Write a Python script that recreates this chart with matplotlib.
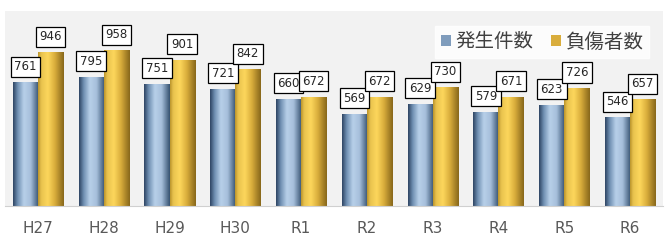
import matplotlib
matplotlib.use("Agg")
import matplotlib.pyplot as plt
import numpy as np
from matplotlib.colors import LinearSegmentedColormap
from matplotlib.patches import Rectangle

plt.rcParams['font.family'] = ['Noto Sans CJK JP', 'DejaVu Sans']

categories = ["H27", "H28", "H29", "H30", "R1", "R2", "R3", "R4", "R5", "R6"]
incidents = [761, 795, 751, 721, 660, 569, 629, 579, 623, 546]
injured = [946, 958, 901, 842, 672, 672, 730, 671, 726, 657]
series_names = ["発生件数", "負傷者数"]

blue_cmap = LinearSegmentedColormap.from_list(
    "b", [(0, "#2c4261"), (0.18, "#6f8fb2"), (0.42, "#b8d0e9"), (0.68, "#a6bfdb"), (1.0, "#34506f")])
gold_cmap = LinearSegmentedColormap.from_list(
    "g", [(0, "#b8912a"), (0.12, "#e8c24e"), (0.38, "#fdd75c"), (0.65, "#d9ad3c"), (1.0, "#86661a")])

fig = plt.figure(figsize=(6.68, 2.44), dpi=100)
ax = fig.add_axes([5/668, (244-206)/244, 658/668, (206-11)/244])
ax.set_facecolor("#f2f2f2")

x = np.arange(len(categories))
w = 0.38
grad = np.linspace(0, 1, 256).reshape(1, -1)

def draw(xs, vals, cmap, label):
    bars = ax.bar(xs, vals, width=w, color="none", edgecolor="none", label=label)
    for b in bars:
        x0, y0, bw, bh = b.get_x(), b.get_y(), b.get_width(), b.get_height()
        im = ax.imshow(grad, cmap=cmap, aspect="auto", extent=[x0, x0 + bw, y0, y0 + bh],
                       zorder=2, interpolation="bicubic")
        clip = Rectangle((x0, y0), bw, bh, transform=ax.transData, facecolor="none", edgecolor="none")
        ax.add_patch(clip)
        im.set_clip_path(clip)
    for b, v in zip(bars, vals):
        ax.annotate(str(v), (b.get_x() + b.get_width() / 2, v), xytext=(0, 6.5),
                    textcoords="offset points", ha="center", va="bottom", fontsize=8.5,
                    color="#262626", family=["DejaVu Sans"],
                    bbox=dict(boxstyle="square,pad=0.3", fc="white", ec="black", lw=0.9), zorder=5)
    return bars

draw(x - w / 2, incidents, blue_cmap, series_names[0])
draw(x + w / 2, injured, gold_cmap, series_names[1])
ax.set_xlim(-0.5, len(categories) - 0.5)
ax.set_ylim(0, 1200)

ax.set_xticks(x)
ax.set_xticklabels(categories, fontsize=11, color="#595959", family=["DejaVu Sans"])
ax.tick_params(axis="x", length=0, pad=11)
ax.set_yticks([])
for s in ["top", "right", "left"]:
    ax.spines[s].set_visible(False)
ax.spines["bottom"].set_color("#d0d0d0")

h1 = Rectangle((0, 0), 1, 1, fc="#7f9cbc", ec="none")
h2 = Rectangle((0, 0), 1, 1, fc="#d9ad3c", ec="none")
leg = ax.legend([h1, h2], series_names, loc="upper right", ncol=2, frameon=True,
                fontsize=14, handlelength=0.5, handleheight=0.5, handletextpad=0.25,
                columnspacing=0.9, borderpad=0.3, fancybox=False,
                bbox_to_anchor=(0.994, 0.975))
leg.get_frame().set_facecolor("white")
leg.get_frame().set_edgecolor("white")
for t in leg.get_texts():
    t.set_color("#404040")

fig.savefig("out.png", dpi=100)
